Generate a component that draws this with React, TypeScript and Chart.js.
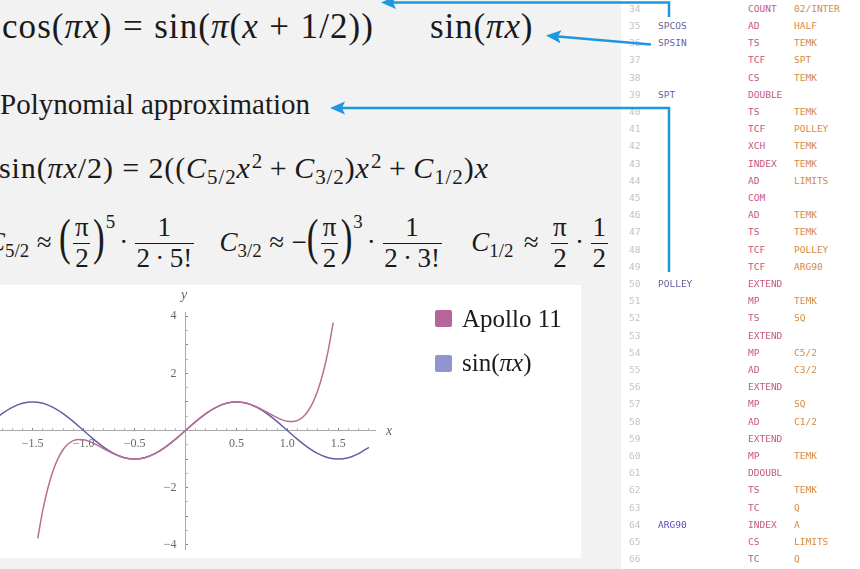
import React, { useEffect, useRef } from "react";
import { Chart, registerables } from "chart.js";
Chart.register(...registerables);

// ---------- data ----------
const seriesNames = ["Apollo 11", "sin(πx)"];
const sinX = [-1.9, -1.8, -1.7, -1.6, -1.5, -1.4, -1.3, -1.2, -1.1, -1.0, -0.9, -0.8, -0.7, -0.6, -0.5, -0.4, -0.3, -0.2, -0.1, 0, 0.1, 0.2, 0.3, 0.4, 0.5, 0.6, 0.7, 0.8, 0.9, 1.0, 1.1, 1.2, 1.3, 1.4, 1.5, 1.6, 1.7, 1.8];
const sinY = [0.309, 0.588, 0.809, 0.951, 1.0, 0.951, 0.809, 0.588, 0.309, 0, -0.309, -0.588, -0.809, -0.951, -1.0, -0.951, -0.809, -0.588, -0.309, 0, 0.309, 0.588, 0.809, 0.951, 1.0, 0.951, 0.809, 0.588, 0.309, 0, -0.309, -0.588, -0.809, -0.951, -1.0, -0.951, -0.809, -0.588];
const apolloX = [-1.45, -1.4, -1.35, -1.3, -1.25, -1.2, -1.15, -1.1, -1.05, -1.0, -0.95, -0.9, -0.8, -0.7, -0.6, -0.5, -0.4, -0.3, -0.2, -0.1, 0, 0.1, 0.2, 0.3, 0.4, 0.5, 0.6, 0.7, 0.8, 0.9, 0.95, 1.0, 1.05, 1.1, 1.15, 1.2, 1.25, 1.3, 1.35, 1.4, 1.45];
const apolloY = [-3.781, -2.791, -2.013, -1.417, -0.977, -0.667, -0.466, -0.353, -0.311, -0.322, -0.373, -0.450, -0.641, -0.825, -0.954, -1.0, -0.951, -0.809, -0.588, -0.309, 0, 0.309, 0.588, 0.809, 0.951, 1.0, 0.954, 0.825, 0.641, 0.450, 0.373, 0.322, 0.311, 0.353, 0.466, 0.667, 0.977, 1.417, 2.013, 2.791, 3.781];
const xTickLabels = [-1.5, -1.0, -0.5, 0.5, 1.0, 1.5];
const yTickLabels = [-4, -2, 2, 4];

const codeNumbers = [34, 35, 36, 37, 38, 39, 40, 41, 42, 43, 44, 45, 46, 47, 48, 49, 50, 51, 52, 53, 54, 55, 56, 57, 58, 59, 60, 61, 62, 63, 64, 65, 66];
const codeLabels = ["", "SPCOS", "SPSIN", "", "", "SPT", "", "", "", "", "", "", "", "", "", "", "POLLEY", "", "", "", "", "", "", "", "", "", "", "", "", "", "ARG90", "", ""];
const codeOps = ["COUNT", "AD", "TS", "TCF", "CS", "DOUBLE", "TS", "TCF", "XCH", "INDEX", "AD", "COM", "AD", "TS", "TCF", "TCF", "EXTEND", "MP", "TS", "EXTEND", "MP", "AD", "EXTEND", "MP", "AD", "EXTEND", "MP", "DDOUBL", "TS", "TC", "INDEX", "CS", "TC"];
const codeOperands = ["02/INTER", "HALF", "TEMK", "SPT", "TEMK", "", "TEMK", "POLLEY", "TEMK", "TEMK", "LIMITS", "", "TEMK", "TEMK", "POLLEY", "ARG90", "", "TEMK", "SQ", "", "C5/2", "C3/2", "", "SQ", "C1/2", "", "TEMK", "", "TEMK", "Q", "A", "LIMITS", "Q"];

// ---------- styles ----------
const SERIF = "'Liberation Serif', 'Times New Roman', serif";
const MONO = "'DejaVu Sans Mono', monospace";
const APOLLO_LINE = "#b86e96";
const SIN_LINE = "#6060a8";
const APOLLO_SWATCH = "#b5659a";
const SIN_SWATCH = "#9393cf";
const BLUE = "#1b98e0";

const Op = ({ c, m = 0.25 }: { c: string; m?: number }) => (
  <span style={{ margin: `0 ${m}em` }}>{c}</span>
);
const Sub = ({ t }: { t: string }) => (
  <span style={{ fontSize: "0.7em", position: "relative", top: "0.32em" }}>{t}</span>
);
const Sup = ({ t, up = 0.45 }: { t: string; up?: number }) => (
  <span style={{ fontSize: "0.7em", position: "relative", top: `-${up}em`, marginLeft: "0.05em" }}>{t}</span>
);
const Frac = ({ n, d }: { n: React.ReactNode; d: React.ReactNode }) => (
  <span style={{ display: "inline-flex", flexDirection: "column", alignItems: "center", verticalAlign: "0.55em", margin: "0 0.1em" }}>
    <span style={{ lineHeight: 1.1, padding: "0 0.06em" }}>{n}</span>
    <span style={{ lineHeight: 1.1, padding: "0 0.06em", borderTop: "1.2px solid #1a1a1a", alignSelf: "stretch", textAlign: "center" }}>{d}</span>
  </span>
);
const BigP = ({ c }: { c: string }) => (
  <span style={{ display: "inline-block", fontSize: "1.3em", lineHeight: 1, transform: "scaleY(1.45)", transformOrigin: "50% 64%" }}>{c}</span>
);

function PlotChart() {
  const ref = useRef<HTMLCanvasElement>(null);
  useEffect(() => {
    const fmt = (v: number) => (v < 0 ? "\u2212" : "") + Math.abs(v).toFixed(1);
    const zeroPad = (s: any) => { s.paddingLeft = 0; s.paddingRight = 0; s.paddingTop = 0; s.paddingBottom = 0; };
    const chart = new Chart(ref.current!, {
      type: "line",
      data: {
        datasets: [
          {
            label: seriesNames[0],
            data: apolloX.map((x, i) => ({ x, y: apolloY[i] })),
            borderColor: APOLLO_LINE,
            borderWidth: 1.5,
            pointRadius: 0,
            cubicInterpolationMode: "monotone",
            fill: false,
          },
          {
            label: seriesNames[1],
            data: sinX.map((x, i) => ({ x, y: sinY[i] })),
            borderColor: SIN_LINE,
            borderWidth: 1.5,
            pointRadius: 0,
            cubicInterpolationMode: "monotone",
            fill: false,
          },
        ],
      },
      options: {
        animation: false,
        responsive: false,
        layout: { padding: { left: 0, right: 206, top: 27, bottom: 9 } },
        plugins: { legend: { display: false }, tooltip: { enabled: false } },
        scales: {
          x: {
            type: "linear",
            min: -1.82,
            max: 1.86,
            position: { y: 0 } as any,
            afterFit: (s: any) => { s.height = 0; zeroPad(s); },
            border: { display: true, color: "#a8a8a8", width: 1 },
            grid: {
              drawOnChartArea: false,
              drawTicks: true,
              tickLength: -3,
              tickColor: (ctx: any) => {
                const v = ctx.tick ? ctx.tick.value : 0;
                return Math.abs(v * 2 - Math.round(v * 2)) < 1e-6 ? "#888" : "#b8b8b8";
              },
            },
            ticks: {
              stepSize: 0.1,
              autoSkip: false,
              includeBounds: false,
              maxRotation: 0,
              minRotation: 0,
              maxTicksLimit: 1000,
              padding: 9,
              color: "#666",
              font: { family: SERIF, size: 12 },
              callback: (value: any) => {
                const v = Number(value);
                const hit = xTickLabels.find((t) => Math.abs(t - v) < 1e-6);
                return hit === undefined ? "" : fmt(hit);
              },
            },
          },
          y: {
            type: "linear",
            min: -4.15,
            max: 4.15,
            position: { x: 0 } as any,
            afterFit: (s: any) => { s.width = 0; zeroPad(s); },
            border: { display: true, color: "#a8a8a8", width: 1 },
            grid: {
              drawOnChartArea: false,
              drawTicks: true,
              tickLength: -3,
              tickColor: (ctx: any) => {
                const v = ctx.tick ? ctx.tick.value : 0;
                return Math.abs(v - Math.round(v)) < 1e-6 ? "#888" : "#b8b8b8";
              },
            },
            ticks: {
              stepSize: 0.5,
              autoSkip: false,
              includeBounds: false,
              maxTicksLimit: 1000,
              color: "#666",
              font: { family: SERIF, size: 12 },
              callback: (value: any) => {
                const v = Number(value);
                const hit = yTickLabels.find((t) => Math.abs(t - v) < 1e-6);
                return hit === undefined ? "" : (hit < 0 ? "\u2212" : "") + Math.abs(hit) + "   ";
              },
            },
          },
        },
      },
    });
    return () => chart.destroy();
  }, []);
  return <canvas ref={ref} width={581} height={273} style={{ width: 581, height: 273, display: "block" }} />;
}

function arrowHead(tx: number, ty: number, fx: number, fy: number) {
  const dx = tx - fx, dy = ty - fy;
  const L = Math.hypot(dx, dy);
  const ux = dx / L, uy = dy / L;
  const nx = -uy, ny = ux;
  const bx = tx - 15 * ux, by = ty - 15 * uy;
  const kx = tx - 12 * ux, ky = ty - 12 * uy;
  return `${tx},${ty} ${bx + 6.5 * nx},${by + 6.5 * ny} ${kx},${ky} ${bx - 6.5 * nx},${by - 6.5 * ny}`;
}

export default function App() {
  const base: React.CSSProperties = { position: "absolute", fontFamily: SERIF, color: "#1a1a1a", whiteSpace: "nowrap" };
  return (
    <div style={{ position: "fixed", left: 0, top: 0, width: 860, height: 569, background: "#f2f2f2", overflow: "hidden" }}>
      {/* formulas */}
      <div style={{ ...base, left: 2, top: 9, fontSize: 35, lineHeight: "35px", letterSpacing: "0.03em" }}>
        cos(<i>πx</i>)<Op c="=" m={0.3} />sin(<i>π</i>(<i>x</i><Op c="+" m={0.3} />1/2))
      </div>
      <div style={{ ...base, left: 430, top: 9, fontSize: 35, lineHeight: "35px", letterSpacing: "0.025em" }}>
        sin(<i>πx</i>)
      </div>
      <div style={{ ...base, left: 0, top: 90, fontSize: 29, lineHeight: "29px" }}>Polynomial approximation</div>
      <div style={{ ...base, left: -1, top: 152.5, fontSize: 30, lineHeight: "30px", letterSpacing: "0.03em" }}>
        sin(<i>πx</i>/2)<Op c="=" m={0.28} />2((<i>C</i><Sub t="5/2" /><i>x</i><Sup t="2" /><Op c="+" m={0.22} /><i>C</i><Sub t="3/2" />)<i>x</i><Sup t="2" /><Op c="+" m={0.22} /><i>C</i><Sub t="1/2" />)<i>x</i>
      </div>
      <div style={{ ...base, left: -13, top: 202, fontSize: 27, lineHeight: "80px" }}>
        <i>C</i><Sub t="5/2" /><Op c="≈" m={0.28} /><BigP c="(" /><Frac n="π" d="2" /><BigP c=")" /><Sup t="5" up={1.2} /><Op c="·" m={0.15} /><Frac n="1" d={"2\u2009·\u20095!"} />
        <span style={{ marginLeft: "0.85em" }} />
        <i>C</i><Sub t="3/2" /><Op c="≈" m={0.28} />−<BigP c="(" /><Frac n="π" d="2" /><BigP c=")" /><Sup t="3" up={1.2} /><Op c="·" m={0.15} /><Frac n="1" d={"2\u2009·\u20093!"} />
        <span style={{ marginLeft: "1.0em" }} />
        <i>C</i><Sub t="1/2" /><Op c="≈" m={0.38} /><Frac n="π" d="2" /><Op c="·" m={0.15} /><Frac n="1" d="2" />
      </div>

      {/* plot */}
      <div style={{ position: "absolute", left: 0, top: 285, width: 581, height: 273, background: "#ffffff" }}>
        <PlotChart />
      </div>
      <div style={{ ...base, left: 181, top: 288, fontSize: 14, lineHeight: "14px", color: "#666" }}><i>y</i></div>
      <div style={{ ...base, left: 386, top: 424, fontSize: 14, lineHeight: "14px", color: "#666" }}><i>x</i></div>
      {/* legend */}
      <div style={{ position: "absolute", left: 435, top: 310, width: 17, height: 17, borderRadius: 2, background: APOLLO_SWATCH }} />
      <div style={{ position: "absolute", left: 435, top: 355, width: 17, height: 17, borderRadius: 2, background: SIN_SWATCH }} />
      <div style={{ ...base, left: 462, top: 306, fontSize: 25, lineHeight: "25px" }}>{seriesNames[0]}</div>
      <div style={{ ...base, left: 462, top: 350, fontSize: 25, lineHeight: "25px" }}>sin(<i>πx</i>)</div>

      {/* code panel */}
      <div style={{ position: "absolute", left: 621, top: 0, width: 239, height: 569, background: "#ffffff" }} />
      {codeNumbers.map((n, i) => (
        <div key={n} style={{ position: "absolute", left: 0, top: -0.3 + 17.2 * i, height: 17.2, width: 860, fontFamily: MONO, fontSize: 9.5, lineHeight: "17.2px", whiteSpace: "nowrap" }}>
          <span style={{ position: "absolute", left: 629, color: "#c4c4c4" }}>{n}</span>
          <span style={{ position: "absolute", left: 658, color: codeLabels[i] === "ARG90" ? "#5a4cc0" : "#6a5e9e" }}>{codeLabels[i]}</span>
          <span style={{ position: "absolute", left: 748, color: "#c4587c" }}>{codeOps[i]}</span>
          <span style={{ position: "absolute", left: 794, color: "#d68a45" }}>{codeOperands[i]}</span>
        </div>
      ))}

      {/* arrows */}
      <svg width={860} height={569} style={{ position: "absolute", left: 0, top: 0, pointerEvents: "none" }}>
        <polyline points="669,17 669,2.5 392,2.5" fill="none" stroke={BLUE} strokeWidth={2.5} />
        <polygon points={arrowHead(381, 2.5, 669, 2.5)} fill={BLUE} />
        <line x1={651} y1={44.5} x2={558} y2={36.6} stroke={BLUE} strokeWidth={2.5} />
        <polygon points={arrowHead(546, 35.5, 651, 44.5)} fill={BLUE} />
        <polyline points="669,272 669,108 342,108" fill="none" stroke={BLUE} strokeWidth={2.5} />
        <polygon points={arrowHead(330, 108, 669, 108)} fill={BLUE} />
      </svg>
    </div>
  );
}
